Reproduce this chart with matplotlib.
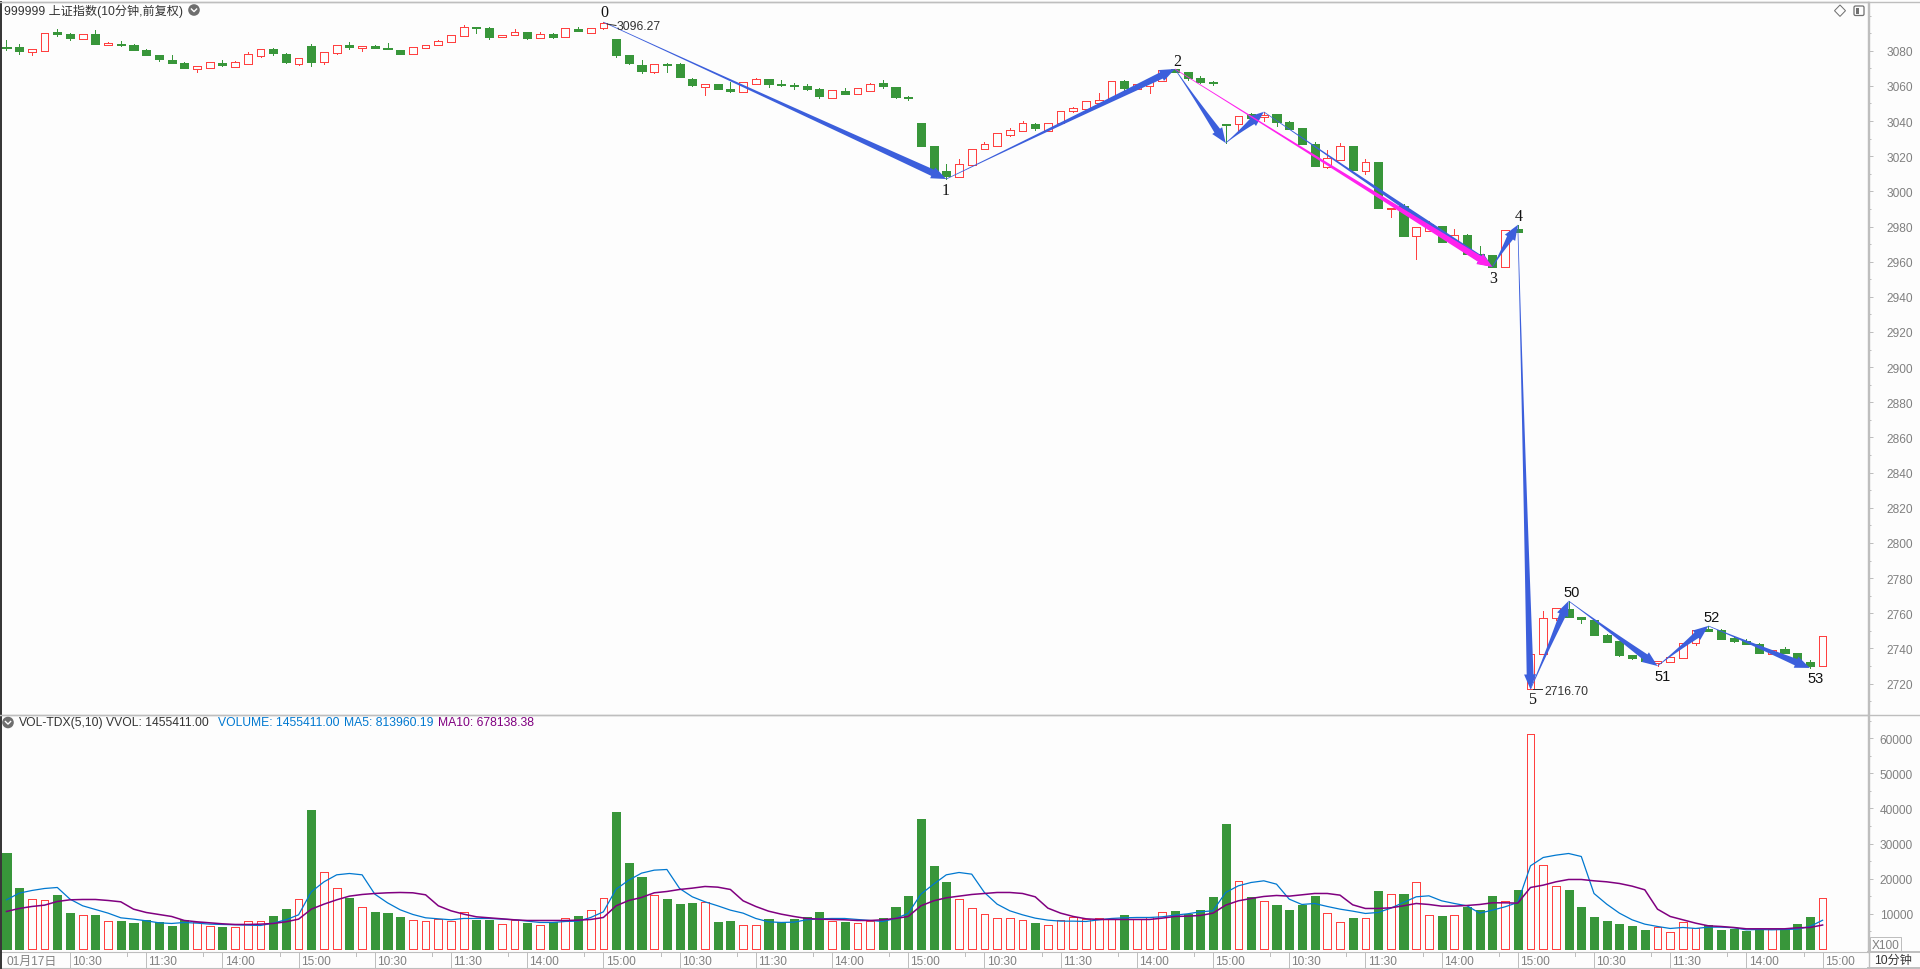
import numpy as np
import matplotlib
matplotlib.use("Agg")
import matplotlib.pyplot as plt
from matplotlib.patches import Polygon, Circle, FancyBboxPatch, Rectangle
from matplotlib.transforms import IdentityTransform
from matplotlib.ticker import MultipleLocator, NullFormatter

opens = [
3081.9,3082.1,3079.4,3080.0,3090.6,3089.5,3086.8,3089.5,3083.4,3083.8,3083.2,3080.4,
3077.5,3074.7,3073.0,3069.8,3070.3,3073.0,3070.9,3072.6,3077.1,3080.9,3078.1,3072.6,
3082.6,3073.8,3078.9,3083.5,3081.6,3082.9,3081.6,3080.4,3078.3,3081.8,3083.5,3085.2,
3088.6,3093.3,3092.9,3088.0,3089.1,3090.7,3087.4,3089.5,3088.0,3092.6,3090.3,3093.1,
3086.6,3077.5,3071.8,3068.0,3072.4,3072.4,3063.9,3059.5,3061.0,3058.2,3056.3,3061.2,
3063.7,3060.8,3060.3,3059.7,3058.2,3053.3,3057.0,3055.5,3057.2,3061.6,3059.3,3053.4,
3038.9,3025.8,3011.6,3008.3,3015.2,3024.3,3026.0,3032.0,3034.5,3038.3,3034.3,3038.7,
3045.7,3046.6,3050.2,3052.3,3062.7,3058.0,3060.1,3062.5,3069.6,3067.9,3064.4,3062.0,
3038.2,3038.2,3044.0,3042.1,3044.0,3039.5,3036.1,3027.0,3014.1,3018.1,3025.8,3011.8,
3016.7,2990.2,2991.7,2974.8,2977.7,2980.3,2971.4,2975.2,2964.4,2963.8,2957.2,2978.6,
2717.0,2737.0,2757.5,2762.4,2757.9,2756.2,2747.6,2744.2,2736.3,2734.6,2731.7,2732.1,
2734.8,2742.9,2751.1,2750.5,2745.9,2744.4,2742.5,2737.0,2739.9,2737.4,2732.3,2730.2]
closes = [
3081.7,3079.8,3080.7,3089.8,3089.5,3087.2,3089.3,3083.8,3084.3,3083.4,3080.4,3077.5,
3075.2,3073.0,3070.1,3071.1,3073.4,3071.8,3073.4,3077.9,3080.7,3078.7,3073.5,3075.6,
3073.5,3079.1,3083.1,3082.1,3082.7,3081.6,3081.2,3078.2,3081.9,3083.1,3085.4,3088.8,
3093.3,3093.1,3087.8,3088.9,3090.5,3087.2,3089.5,3087.8,3092.7,3091.2,3092.7,3095.8,
3077.5,3073.0,3068.4,3072.2,3071.8,3065.0,3060.5,3060.8,3058.2,3057.0,3062.0,3063.7,
3061.0,3060.5,3059.9,3058.2,3054.2,3057.6,3055.3,3058.6,3060.8,3059.9,3053.6,3052.9,
3025.8,3011.4,3008.7,3015.3,3023.9,3026.7,3033.0,3034.7,3038.9,3036.0,3038.7,3045.5,
3047.2,3051.2,3051.7,3062.5,3058.8,3060.8,3063.3,3069.0,3067.7,3064.4,3062.2,3061.6,
3037.8,3042.7,3041.8,3043.5,3039.5,3035.5,3027.0,3014.5,3018.8,3025.6,3012.2,3016.5,
2990.6,2990.8,2974.6,2979.6,2981.5,2971.2,2975.0,2964.6,2963.4,2957.0,2977.8,2977.1,
2736.7,2757.1,2762.8,2757.9,2756.7,2747.6,2743.7,2736.3,2734.6,2732.9,2732.9,2734.9,
2742.9,2750.3,2750.1,2745.4,2744.2,2742.7,2737.4,2739.1,2737.4,2732.9,2730.0,2746.9]
highs = [
3086.1,3083.8,3080.7,3089.8,3092.3,3089.8,3089.3,3091.7,3084.9,3085.5,3083.8,3080.9,
3077.5,3077.5,3073.5,3071.1,3073.4,3074.7,3074.1,3079.2,3080.7,3081.5,3078.7,3075.6,
3083.8,3079.1,3083.1,3085.0,3082.7,3083.3,3084.4,3080.4,3081.9,3083.1,3086.1,3088.8,
3094.6,3093.3,3093.5,3088.9,3092.4,3090.7,3090.7,3090.1,3092.7,3093.5,3092.7,3096.27,
3086.6,3077.5,3074.7,3072.2,3073.0,3073.0,3064.4,3060.8,3061.0,3062.2,3062.0,3064.4,
3063.7,3063.3,3061.6,3061.0,3058.8,3057.6,3058.8,3058.6,3061.6,3063.3,3059.3,3054.2,
3038.9,3025.8,3015.5,3018.4,3023.9,3028.0,3033.0,3036.0,3040.0,3038.9,3038.7,3045.5,
3048.0,3051.2,3055.9,3062.5,3063.3,3060.8,3063.3,3069.0,3069.6,3067.9,3065.6,3062.7,
3038.2,3042.7,3044.6,3045.2,3044.0,3040.0,3036.1,3028.1,3023.6,3027.5,3025.8,3018.4,
3016.7,2990.8,2992.8,2979.6,2983.2,2980.3,2978.6,2975.8,2968.9,2963.8,2977.8,2980.9,
2736.7,2761.3,2762.8,2767.0,2757.9,2756.7,2748.2,2744.2,2736.3,2735.7,2732.9,2734.9,
2742.9,2750.3,2752.8,2751.1,2747.1,2745.4,2743.1,2739.1,2740.6,2737.4,2733.4,2746.9]
lows = [
3080.6,3078.3,3077.5,3080.0,3088.5,3086.1,3086.8,3083.8,3083.4,3082.8,3080.4,3077.5,
3074.1,3073.0,3070.1,3067.9,3070.3,3071.3,3070.9,3072.6,3076.4,3077.5,3073.0,3071.8,
3071.3,3072.5,3078.2,3081.2,3080.0,3081.6,3081.2,3078.2,3078.3,3081.8,3083.5,3085.2,
3088.6,3090.3,3086.7,3088.0,3089.1,3086.7,3087.4,3087.2,3088.0,3091.2,3090.3,3092.4,
3076.4,3072.4,3067.3,3067.3,3067.9,3065.0,3059.9,3054.8,3058.2,3056.5,3056.3,3061.2,
3059.3,3059.9,3058.2,3057.6,3053.1,3053.3,3055.3,3055.5,3057.2,3058.8,3053.1,3051.9,
3025.8,3011.4,3007.0,3008.3,3015.2,3024.3,3026.0,3031.5,3034.5,3034.9,3034.3,3038.7,
3045.1,3046.6,3050.2,3052.3,3057.1,3058.0,3055.9,3062.5,3067.7,3063.3,3061.6,3060.5,
3027.5,3034.4,3038.9,3040.0,3037.2,3035.5,3027.0,3014.5,3013.3,3018.1,3012.2,3009.9,
2990.6,2985.4,2974.6,2961.6,2977.7,2971.2,2971.4,2964.6,2963.4,2957.0,2957.2,2977.1,
2716.7,2737.0,2756.0,2757.9,2754.5,2747.6,2743.7,2735.7,2734.0,2732.9,2730.0,2732.1,
2734.8,2742.0,2750.1,2745.4,2743.7,2742.7,2737.4,2737.0,2737.4,2732.9,2728.9,2730.2]

volumes = [
27300,17300,14060,13775,15300,10165,9500,9600,7800,7900,7300,8100,
7500,6460,8100,7500,6400,6200,6100,7800,7800,9300,11300,14300,
39500,22000,17200,14400,12000,10450,10200,9000,8100,7800,8450,7800,
10600,8200,8200,7200,8200,7300,6650,7500,8900,9300,11200,14600,
39000,24400,20400,15300,14150,12700,13000,13300,7600,7900,6650,6650,
8450,7600,8450,9000,10450,7900,7600,7300,7900,8700,11900,15000,
37000,23600,19000,14300,11500,9800,8900,8900,8100,7300,6900,8100,
9200,8450,8900,8450,9600,8450,9200,10350,10700,9900,11000,14700,
35500,19200,14700,13500,12450,11000,12500,15000,10100,7500,8700,8650,
16400,15500,15600,18900,9500,9300,9500,11900,11000,15000,13500,16700,
61100,23750,17800,16700,11900,9000,7900,7000,6500,5300,6100,4650,
7500,5800,6650,5300,5600,5000,5600,5600,5600,7000,9000,14554]

ma5 = [
13965,15865,16625,17195,17480,14155,12255,11210,10165,8835,8455,7980,
7410,7220,7505,7315,7030,6935,6840,6745,6650,7315,8265,9690,
16245,19095,21090,21470,21090,15580,13110,11115,9785,8835,8550,8265,
8645,8645,8645,8455,8265,7885,7505,7505,7790,7885,8930,10545,
17005,19570,21565,22420,22610,17195,14820,13395,12255,11020,10165,8645,
7695,7505,7600,8265,8550,8645,8645,8360,8075,7790,8645,10070,
15580,18430,21090,21755,21280,16055,12730,10830,9690,8740,8170,7885,
7885,7790,8265,8645,8835,8930,8930,9120,9595,9975,10545,10830,
16055,17955,18905,19380,18430,14155,12635,12920,12065,11305,10735,10070,
10355,11590,13205,14820,15105,13680,12920,12255,10165,11020,11970,13205,
23655,26030,26695,27170,26315,15770,12730,10165,8265,7030,6365,5795,
6080,5795,6175,6175,5985,5415,5510,5415,5510,5605,6365,8140]

ma10 = [
10640,11495,12065,12445,13490,13965,14060,14060,13775,13395,11305,10355,
9785,9215,8075,7695,7410,7125,6935,6935,7030,7220,7695,8455,
11305,12730,13965,15010,15485,15770,15960,16055,15960,15390,12255,10830,
9880,9120,8835,8550,8265,8075,8075,8075,8075,8170,8360,8930,
12255,13775,14630,15960,16340,16910,17290,17765,17575,16910,13680,12065,
10735,9880,9215,8645,8455,8360,8265,8075,8075,8265,8645,9215,
12255,13680,14535,15010,15485,15770,16055,16055,15770,14820,11590,10165,
9215,8550,8360,8360,8360,8360,8360,8740,9215,9310,9500,10165,
12445,13680,14345,14915,15200,15010,15390,15770,15770,15295,12540,11495,
11495,11685,12255,12920,12635,12160,12160,12350,12635,13110,13110,13015,
17480,18145,19095,19760,19760,19380,19095,18620,17860,16815,11305,9215,
8265,7315,6555,6365,6080,5700,5700,5700,5700,5985,6080,6780]

zig_blue = [(47,3096.27),(74,3007.0),(92,3069.6),(96,3027.5),(99,3045.2),(117,2957.0),
            (119,2980.9),(120,2716.7),(123,2767.0),(130,2730.0),(134,2752.8),(142,2728.9)]
zig_magenta = [(92,3069.6),(117,2957.0)]
pivot_labels = ["0","1","2","3","4","5","50","51","52","53"]
time_ticks = ["10:30","11:30","14:00","15:00"]

BG = "#FDFDFD"; GREEN = "#38963A"; RED = "#FF4040"; BLUE = "#3C5FDC"; MAG = "#FF22EE"
AX = "#BEBEBE"; GRAY = "#808080"; DARK = "#333333"; VB = "#0078D0"; VP = "#800080"
SANS = ["Liberation Sans", "Noto Sans CJK SC"]
plt.rcParams["font.family"] = SANS

W, H = 1920, 970
fig = plt.figure(figsize=(W/100, H/100), dpi=100, facecolor=BG)

def rect(x0, y0, x1, y1):
    return [x0/W, 1-y1/H, (x1-x0)/W, (y1-y0)/H]

XL = (-6.5/12.7, (1868-6.5)/12.7)
ax = fig.add_axes(rect(0, 3, 1868, 716), facecolor=BG)
axv = fig.add_axes(rect(0, 716, 1868, 953), facecolor=BG)
axt = fig.add_axes(rect(0, 953, 1868, 969), facecolor=BG)
ov = fig.add_axes([0, 0, 1, 1], facecolor="none", zorder=10)
ov.set_xlim(0, W); ov.set_ylim(H, 0); ov.axis("off")

x = np.arange(len(opens))
o, c, hi, lo, v = map(np.array, (opens, closes, highs, lows, volumes))
up = c >= o
PX = 0.72  # one pixel in points

# ---------- price panel
top = np.maximum(o, c); bot = np.minimum(o, c)
ax.vlines(x[~up], lo[~up], hi[~up], color=GREEN, lw=PX, antialiased=False, zorder=2)
ax.vlines(x[up], top[up], hi[up], color=RED, lw=PX, antialiased=False, zorder=2)
ax.vlines(x[up], lo[up], bot[up], color=RED, lw=PX, antialiased=False, zorder=2)
ax.bar(x[~up], (top-bot)[~up], bottom=bot[~up], width=0.64, color=GREEN, edgecolor=GREEN,
       linewidth=PX, antialiased=False, zorder=3)
ax.bar(x[up], (top-bot)[up], bottom=bot[up], width=0.60, color=BG, edgecolor=RED,
       linewidth=PX, antialiased=False, zorder=3)
ax.set_xlim(*XL)
ax.set_ylim(3080-(716-51.7)/1.758, 3080-(3-51.7)/1.758)

# ---------- volume panel
axv.bar(x[~up], v[~up], width=0.64, color=GREEN, edgecolor=GREEN, linewidth=PX,
        antialiased=False, zorder=2)
axv.bar(x[up], v[up], width=0.60, color=BG, edgecolor=RED, linewidth=PX,
        antialiased=False, zorder=3)
axv.plot(x, ma5, color=VB, lw=0.9, zorder=4)
axv.plot(x, ma10, color=VP, lw=1.1, zorder=5)
axv.set_xlim(*XL)
axv.set_ylim((949.8-953)/175.4*50000, (949.8-716)/175.4*50000)

for a, maj, mino in ((ax, 20, 10), (axv, 10000, 5000)):
    a.yaxis.tick_right()
    a.yaxis.set_major_locator(MultipleLocator(maj))
    a.yaxis.set_minor_locator(MultipleLocator(mino))
    a.yaxis.set_minor_formatter(NullFormatter())
    a.tick_params(axis="y", which="major", length=3.8, width=PX, color=AX, labelcolor=GRAY,
                  labelsize=8.6, pad=28.6)
    a.tick_params(axis="y", which="minor", length=2.0, width=PX, color=AX)
    a.set_xticks([])
    for s in ("left", "bottom"):
        a.spines[s].set_visible(False)
    a.spines["top"].set_color(AX); a.spines["right"].set_color(AX)
    a.spines["top"].set_linewidth(1.0); a.spines["right"].set_linewidth(1.0)
axv.set_yticks([10000,20000,30000,40000,50000,60000])
ax.set_yticks(np.arange(2720, 3081, 20))
for a in (ax, axv):
    for t in a.get_yticklabels():
        t.set_ha("right")

# ---------- time strip
majors = np.arange(5, 144, 6)
labs = [time_ticks[k % 4] for k in range(len(majors))]
axt.set_xlim(*XL); axt.set_ylim(0, 1)
axt.vlines(majors, 0, 1, color=AX, lw=PX, antialiased=False)
axt.vlines(majors+4.5, 0.72, 1, color=AX, lw=PX, antialiased=False)
for m, l in zip(majors, labs):
    axt.text(m+0.17, 0.45, l, ha="left", va="center", color=GRAY, fontsize=8.6)
axt.text(0, 0.45, "01月17日", ha="left", va="center", color=GRAY, fontsize=8.6)
axt.set_xticks([]); axt.set_yticks([])
for s in ("left", "right"):
    axt.spines[s].set_visible(False)
for s in ("top", "bottom"):
    axt.spines[s].set_color(AX)

# ---------- zigzag arrows
def arrow(a0, a1, color, w_end, head_w, head_len, z):
    p0 = ax.transData.transform(a0); p1 = ax.transData.transform(a1)
    d = p1-p0; L = np.hypot(*d); u = d/L; n = np.array([-u[1], u[0]])
    ts = np.linspace(0, 1, 12)
    widths = 0.7 + (w_end-0.7)*ts**1.6
    base = p0 + np.outer(ts, d - u*head_len)
    left = base + np.outer(widths/2, n)
    right = base - np.outer(widths/2, n)
    b = p1-u*head_len
    pts = np.vstack([left, b+n*head_w/2, p1, b-n*head_w/2, right[::-1]])
    ax.add_patch(Polygon(pts, closed=True, transform=IdentityTransform(), facecolor=color,
                         edgecolor="none", zorder=z, clip_on=False))

for s, e in zip(zig_blue[:-1], zig_blue[1:]):
    arrow(s, e, BLUE, 6.8, 12, 15, 6)
arrow(zig_magenta[0], zig_magenta[1], MAG, 6.5, 12, 15, 7)

# ---------- pivot labels & overlay text
label_pos = [(604,13),(946,191),(1177,62),(1492.7,279),(1519,217),(1531.7,700),
             (1572,593),(1662.7,676.7),(1712,617.7),(1815.7,678.7)]
for s, (px, py) in zip(pivot_labels, label_pos):
    fam, size = ("Liberation Serif", 11.5) if len(s) == 1 else ("Liberation Sans", 10.5)
    ov.text(px, py, s, ha="center", va="center", fontsize=size, family=fam, color="#111111")

ov.text(617, 27, "3096.27", ha="left", va="center", fontsize=8.8, color=DARK)
ov.plot([607, 616], [25, 26.5], color=DARK, lw=PX)
ov.text(1544, 691.7, "2716.70", ha="left", va="center", fontsize=8.8, color=DARK)
ov.plot([1533, 1542], [690, 690], color=DARK, lw=PX)

ov.text(4, 11.5, "999999 上证指数(10分钟,前复权)", ha="left", va="center", fontsize=8.7, color=DARK)

def chevron_icon(cx, cy):
    ov.add_patch(Circle((cx, cy), 5.8, facecolor="#6E6E6E", edgecolor="none"))
    ov.plot([cx-2.6, cx, cx+2.6], [cy-1, cy+1.6, cy-1], color="white", lw=1.0)
chevron_icon(194, 11)
chevron_icon(8, 723.5)

ov.add_patch(Polygon([(1840,6),(1845.5,11.7),(1840,17.4),(1834.5,11.7)], closed=True,
                     facecolor="none", edgecolor="#707070", lw=PX))
ov.add_patch(FancyBboxPatch((1854,7), 10, 9.5, boxstyle="round,pad=0,rounding_size=1.5",
                            facecolor="none", edgecolor="#707070", lw=0.9))
ov.add_patch(Rectangle((1855.5,8.5), 3.5, 6.5, facecolor="#707070", edgecolor="none"))

for tx, s, col in ((19, "VOL-TDX(5,10)", DARK), (106, "VVOL: 1455411.00", DARK),
                   (218, "VOLUME: 1455411.00", VB), (344.5, "MA5: 813960.19", VB),
                   (438, "MA10: 678138.38", VP)):
    ov.text(tx, 723.5, s, ha="left", va="center", fontsize=8.7, color=col)

# frame
ov.plot([0.8, 0.8], [3, 969], color="#333333", lw=1.4)
ov.plot([0, 1920], [2.5, 2.5], color=AX, lw=1.0)
ov.plot([0, 1920], [716, 716], color=AX, lw=1.0)
ov.plot([1869, 1869], [2.5, 970], color=AX, lw=1.0)
ov.plot([1868, 1920], [953, 953], color=AX, lw=1.4)
ov.plot([1868, 1920], [969, 969], color=AX, lw=1.4)
ov.add_patch(Rectangle((1870, 938), 31, 15, facecolor=BG, edgecolor=AX, lw=PX))
ov.text(1885.5, 945.7, "X100", ha="center", va="center", fontsize=8.6, color=GRAY)
ov.text(1893, 961, "10分钟", ha="center", va="center", fontsize=8.7, color=DARK)

fig.savefig("out.png", dpi=100, facecolor=BG)
